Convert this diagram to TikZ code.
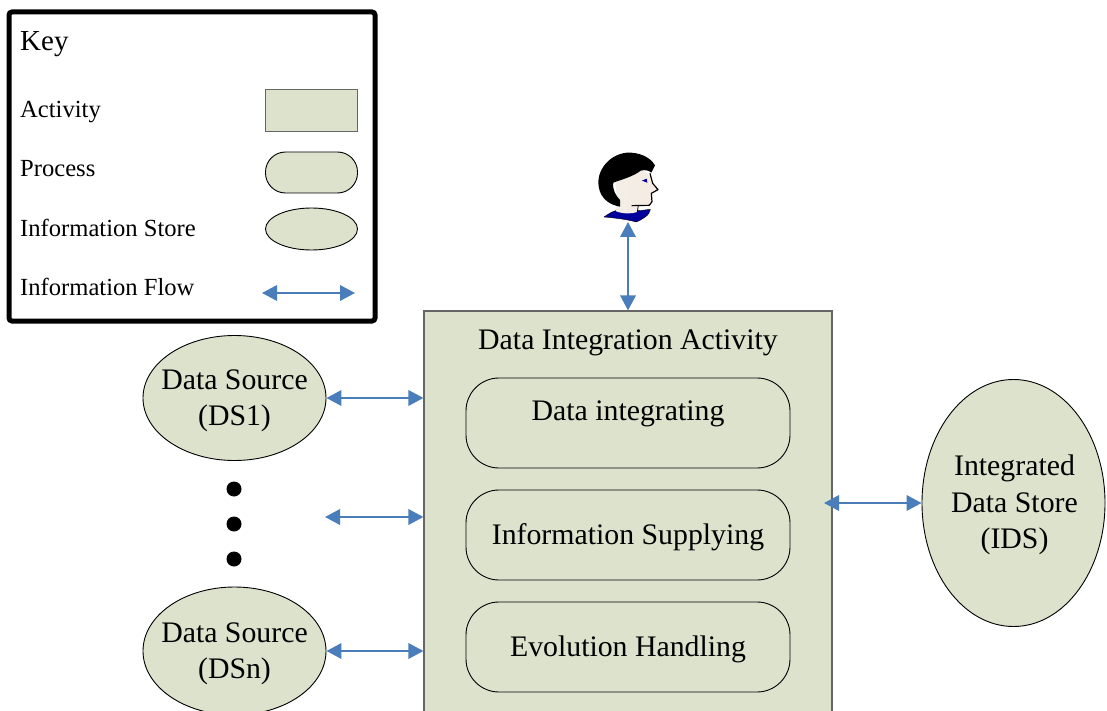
\documentclass[tikz,border=0pt]{standalone}
\usepackage{fontspec}
\setmainfont{Liberation Serif}
\usetikzlibrary{arrows.meta,shapes.geometric}
\definecolor{sage}{HTML}{DDE2CC}
\definecolor{flow}{HTML}{4A7EBB}
\definecolor{navy}{HTML}{00009A}
\definecolor{skin}{HTML}{F3EEE6}
\tikzset{
 x=1pt,y=-1pt,
 flowline/.style={draw=flow,line width=2pt,{Triangle[length=15pt,width=15.5pt]}-{Triangle[length=15pt,width=15.5pt]}},
 store/.style={ellipse,draw=black,line width=.9pt,fill=sage,inner sep=0pt},
 activitybox/.style={rectangle,draw=black!60,line width=1.2pt,fill=sage,inner sep=0pt},
 processbox/.style={rectangle,rounded corners=33pt,draw=black,line width=.9pt,fill=sage,inner sep=0pt,minimum width=324pt,minimum height=90pt},
 keytext/.style={anchor=base west,inner sep=0pt,font=\fontsize{24.6}{28}\selectfont},
 mainlabel/.style={anchor=base,inner sep=0pt,font=\fontsize{29.8}{36}\selectfont},
 blocklabel/.style={inner sep=0pt,align=center,font=\fontsize{29.8}{36.5}\selectfont},
 dotmark/.style={circle,fill=black,inner sep=0pt,minimum size=15pt},
}
\begin{document}
\begin{tikzpicture}
\useasboundingbox (0,0) rectangle (1107,711);
\clip (0,0) rectangle (1107,711);
\fill[white] (0,0) rectangle (1107,711);
% key
\node[draw=black,line width=5pt,rounded corners=3pt,fill=white,inner sep=0pt,minimum width=366pt,minimum height=309pt] (key) at (192,166.5) {};
\node[anchor=base west,inner sep=0pt,font=\fontsize{29}{34}\selectfont] (keytitle) at (20,51) {Key};
\node[keytext] (kactivity) at (20,118) {Activity};
\node[keytext] (kprocess) at (20,177) {Process};
\node[keytext] (kstore) at (20,236.5) {Information Store};
\node[keytext] (kflow) at (20,295.5) {Information Flow};
\node[activitybox,line width=1pt,minimum width=92pt,minimum height=42pt] (kbox) at (311.5,110.5) {};
\node[processbox,rounded corners=20pt,minimum width=92pt,minimum height=41pt] (kround) at (311.5,172.5) {};
\node[store,minimum width=92pt,minimum height=42pt] (kell) at (311.5,229) {};
\coordinate (kl) at (262,293);
\coordinate (kr) at (355,293);
\draw[flowline] (kl) -- (kr);
% activity
\node[activitybox,minimum width=408pt,minimum height=440pt] (activity) at (628,531) {};
\node[mainlabel] (activitytitle) at (628,349) {Data Integration Activity};
\node[processbox] (p1) at (628,423) {};
\node[processbox] (p2) at (628,535) {};
\node[processbox] (p3) at (628,647) {};
\node[mainlabel] (p1text) at (628,420) {Data integrating};
\node[mainlabel] (p2text) at (628,544.5) {Information Supplying};
\node[mainlabel] (p3text) at (628,656.5) {Evolution Handling};
% stores
\node[store,minimum width=183pt,minimum height=125pt] (ds1) at (234.5,398) {};
\node[store,minimum width=183pt,minimum height=128pt] (dsn) at (234.5,651) {};
\node[store,minimum width=183pt,minimum height=247pt] (ids) at (1013.5,503) {};
\node[blocklabel] (ds1text) at (234.5,401) {Data Source\\(DS1)};
\node[blocklabel] (dsntext) at (234.5,654) {Data Source\\(DSn)};
\node[blocklabel] (idstext) at (1014.5,505) {Integrated\\Data Store\\(IDS)};
\node[dotmark] (d1) at (234,489) {};
\node[dotmark] (d2) at (234,524) {};
\node[dotmark] (d3) at (234,559) {};
% person
\coordinate (person) at (628,222);
\begin{scope}[shift={(570,140)},x=.3333pt,y=-.3333pt]
 \fill[navy,draw=black,line width=.4pt] (102,231) .. controls (118,220) and (128,214) .. (138,212) -- (205,212) .. controls (215,212) and (232,208) .. (241,209) .. controls (240,225) and (215,240) .. (198,246) .. controls (180,240) and (140,234) .. (102,231) -- cycle;
 \path[left color=skin,right color=white!85!brown] (135,120) -- (215,85) -- (240,110) -- (248,130) -- (264,149) -- (244,160) -- (246,185) -- (238,196) -- (205,197) -- (202,216) .. controls (185,222) and (160,222) .. (138,214) -- (142,180) -- cycle;
 \draw[black,line width=1.2pt,line join=round] (240,100) -- (248,130) -- (264,149) -- (244,160) -- (246,185) -- (238,196) -- (185,197);
 \draw[black,line width=.8pt] (205,197) -- (202,216);
 \fill[black] (170,38) .. controls (205,36) and (240,50) .. (255,76) -- (244,98) .. controls (238,92) and (225,88) .. (212,92) .. controls (190,110) and (150,120) .. (130,128) .. controls (126,150) and (140,170) .. (150,180) -- (150,200) .. controls (125,196) and (92,180) .. (86,140) .. controls (78,100) and (110,45) .. (170,38) -- cycle;
 \fill[navy] (216,122) -- (230,116) -- (232,128) -- cycle;
\end{scope}
% connectors
\draw[flowline] (person) -- (person |- activity.north);
\draw[flowline] (ds1.east) -- (ds1.east -| activity.west);
\coordinate (midl) at (325,517);
\draw[flowline] (midl) -- (midl -| activity.west);
\draw[flowline] (dsn.east) -- (dsn.east -| activity.west);
\coordinate (actr) at (824,503);
\draw[flowline] (actr) -- (ids.west);
\end{tikzpicture}
\end{document}
